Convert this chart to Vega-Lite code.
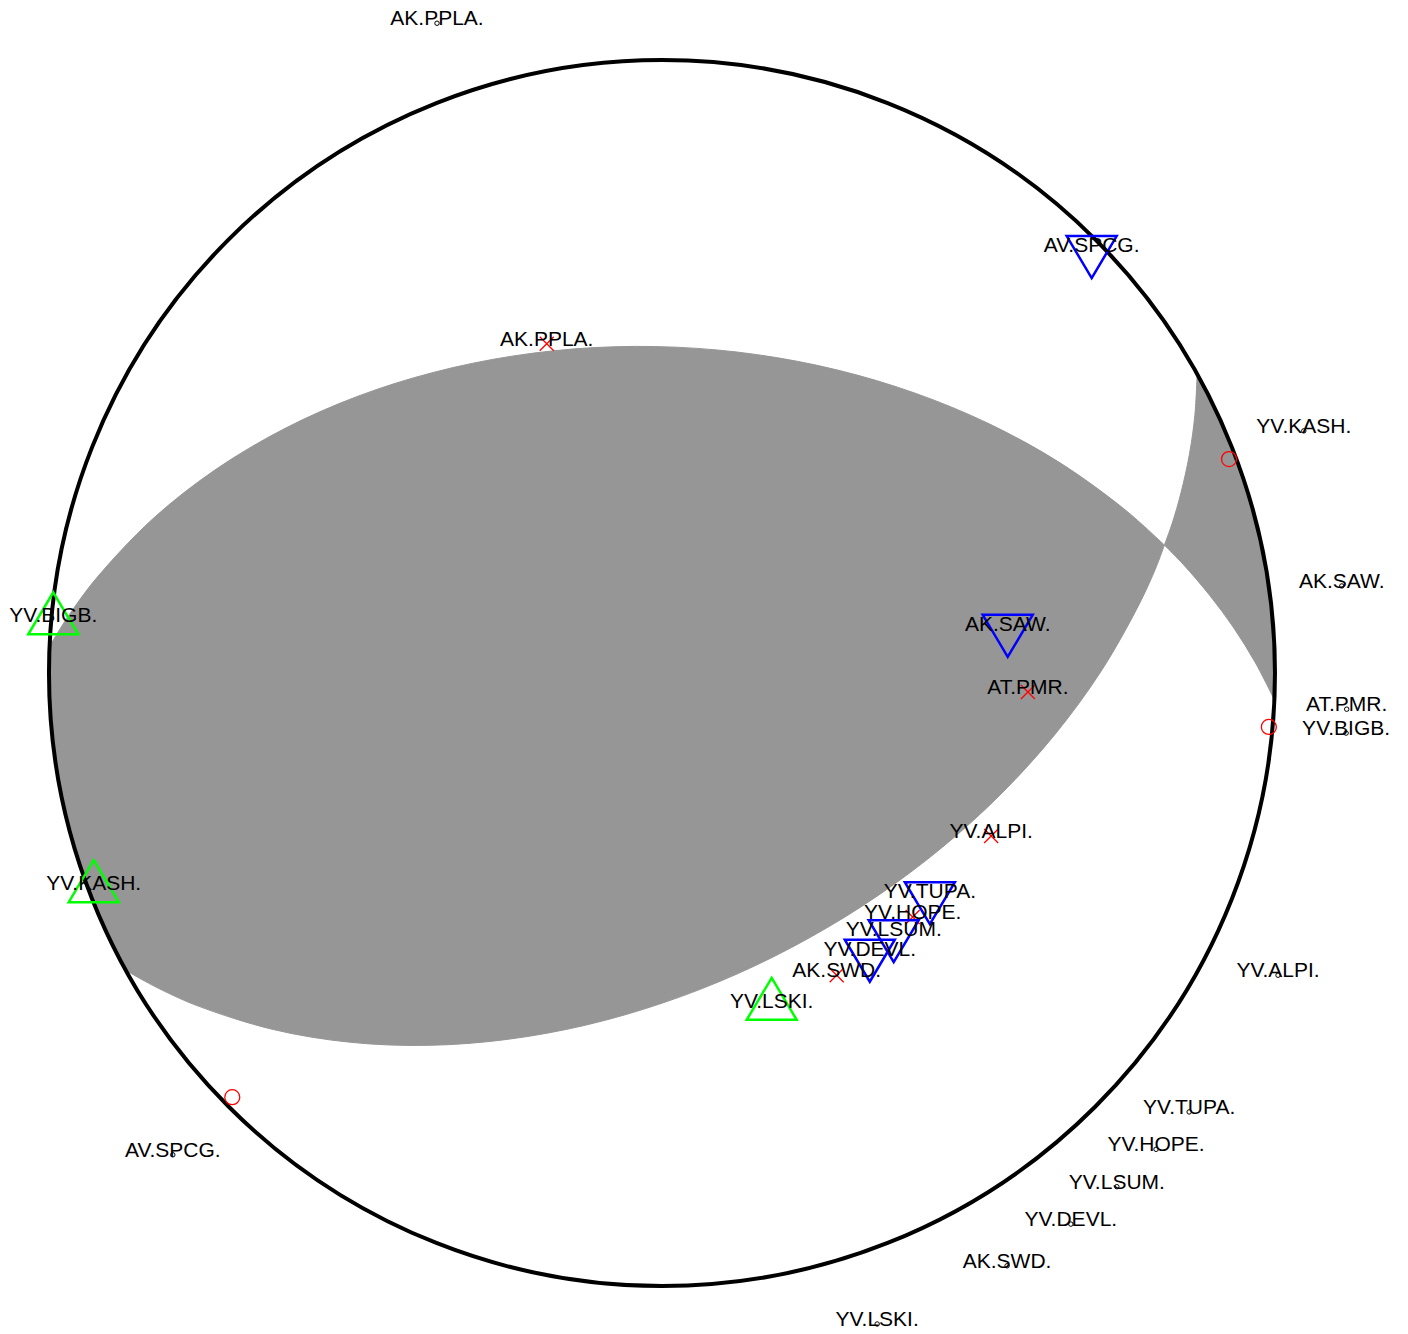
{
  "$schema": "https://vega.github.io/schema/vega-lite/v6.json",
  "width": 1408,
  "height": 1334,
  "autosize": "none",
  "padding": 0,
  "background": "white",
  "config": {"view": {"stroke": null}},
  "datasets": {
    "gray": [
      {"poly": "a", "i": 1, "u": -0.999, "v": 0.0436},
      {"poly": "a", "i": 1.5, "u": -0.999, "v": 0.0436},
      {"poly": "a", "i": 2, "u": -0.9814, "v": 0.0728},
      {"poly": "a", "i": 3, "u": -0.9628, "v": 0.1010},
      {"poly": "a", "i": 4, "u": -0.9228, "v": 0.1545},
      {"poly": "a", "i": 5, "u": -0.8321, "v": 0.2502},
      {"poly": "a", "i": 6, "u": -0.7293, "v": 0.3312},
      {"poly": "a", "i": 7, "u": -0.6170, "v": 0.3980},
      {"poly": "a", "i": 8, "u": -0.4972, "v": 0.4511},
      {"poly": "a", "i": 9, "u": -0.3716, "v": 0.4907},
      {"poly": "a", "i": 10, "u": -0.2419, "v": 0.5173},
      {"poly": "a", "i": 11, "u": -0.1099, "v": 0.5309},
      {"poly": "a", "i": 12, "u": 0.0232, "v": 0.5315},
      {"poly": "a", "i": 13, "u": 0.1557, "v": 0.5193},
      {"poly": "a", "i": 14, "u": 0.2861, "v": 0.4943},
      {"poly": "a", "i": 15, "u": 0.4130, "v": 0.4565},
      {"poly": "a", "i": 16, "u": 0.5346, "v": 0.4061},
      {"poly": "a", "i": 17, "u": 0.6494, "v": 0.3428},
      {"poly": "a", "i": 18, "u": 0.7553, "v": 0.2664},
      {"poly": "a", "i": 19, "u": 0.8196, "v": 0.2087},
      {"poly": "a", "i": 19.5, "u": 0.8196, "v": 0.2087},
      {"poly": "a", "i": 20, "u": 0.8062, "v": 0.1728},
      {"poly": "a", "i": 21, "u": 0.7798, "v": 0.1148},
      {"poly": "a", "i": 22, "u": 0.7168, "v": 0.0036},
      {"poly": "a", "i": 23, "u": 0.6410, "v": -0.1003},
      {"poly": "a", "i": 24, "u": 0.5540, "v": -0.1965},
      {"poly": "a", "i": 25, "u": 0.4574, "v": -0.2843},
      {"poly": "a", "i": 26, "u": 0.3525, "v": -0.3630},
      {"poly": "a", "i": 27, "u": 0.2405, "v": -0.4320},
      {"poly": "a", "i": 28, "u": 0.1229, "v": -0.4908},
      {"poly": "a", "i": 29, "u": 0.0006, "v": -0.5385},
      {"poly": "a", "i": 30, "u": -0.1248, "v": -0.5745},
      {"poly": "a", "i": 31, "u": -0.2524, "v": -0.5977},
      {"poly": "a", "i": 32, "u": -0.3806, "v": -0.6074},
      {"poly": "a", "i": 33, "u": -0.5084, "v": -0.6024},
      {"poly": "a", "i": 34, "u": -0.6341, "v": -0.5816},
      {"poly": "a", "i": 35, "u": -0.7564, "v": -0.5434},
      {"poly": "a", "i": 36, "u": -0.8155, "v": -0.5173},
      {"poly": "a", "i": 37, "u": -0.8445, "v": -0.5022},
      {"poly": "a", "i": 38, "u": -0.873, "v": -0.486},
      {"poly": "a", "i": 38.5, "u": -0.873, "v": -0.486},
      {"poly": "a", "i": 39, "u": -0.9063, "v": -0.4226},
      {"poly": "a", "i": 40, "u": -0.9397, "v": -0.3420},
      {"poly": "a", "i": 41, "u": -0.9659, "v": -0.2588},
      {"poly": "a", "i": 42, "u": -0.9848, "v": -0.1736},
      {"poly": "a", "i": 43, "u": -0.9962, "v": -0.0872},
      {"poly": "a", "i": 44, "u": -1.0, "v": 0.0},
      {"poly": "b", "i": 1, "u": 0.873, "v": 0.486},
      {"poly": "b", "i": 1.5, "u": 0.873, "v": 0.486},
      {"poly": "b", "i": 2, "u": 0.8693, "v": 0.4205},
      {"poly": "b", "i": 3, "u": 0.8604, "v": 0.3566},
      {"poly": "b", "i": 4, "u": 0.8466, "v": 0.2938},
      {"poly": "b", "i": 5, "u": 0.8325, "v": 0.2447},
      {"poly": "b", "i": 6, "u": 0.8196, "v": 0.2087},
      {"poly": "b", "i": 6.5, "u": 0.8196, "v": 0.2087},
      {"poly": "b", "i": 7, "u": 0.8507, "v": 0.1768},
      {"poly": "b", "i": 8, "u": 0.8934, "v": 0.1268},
      {"poly": "b", "i": 9, "u": 0.9328, "v": 0.0735},
      {"poly": "b", "i": 10, "u": 0.9680, "v": 0.0168},
      {"poly": "b", "i": 11, "u": 0.999, "v": -0.0436},
      {"poly": "b", "i": 11.5, "u": 0.999, "v": -0.0436},
      {"poly": "b", "i": 12, "u": 1.0, "v": 0.0},
      {"poly": "b", "i": 13, "u": 0.9962, "v": 0.0872},
      {"poly": "b", "i": 14, "u": 0.9848, "v": 0.1736},
      {"poly": "b", "i": 15, "u": 0.9659, "v": 0.2588},
      {"poly": "b", "i": 16, "u": 0.9397, "v": 0.3420},
      {"poly": "b", "i": 17, "u": 0.9063, "v": 0.4226}
    ],
    "center": [{"u": 0, "v": 0}],
    "sta": [
      {"label": "AK.PPLA.", "kind": "cross", "u": -0.188, "v": 0.537},
      {"label": "AV.SPCG.", "kind": "down", "u": 0.701, "v": 0.690},
      {"label": "AK.SAW.", "kind": "down", "u": 0.564, "v": 0.072},
      {"label": "AT.PMR.", "kind": "cross", "u": 0.597, "v": -0.031},
      {"label": "YV.ALPI.", "kind": "cross", "u": 0.537, "v": -0.266},
      {"label": "YV.TUPA.", "kind": "down", "u": 0.437, "v": -0.364},
      {"label": "YV.HOPE.", "kind": "cross", "u": 0.409, "v": -0.398},
      {"label": "YV.LSUM.", "kind": "down", "u": 0.378, "v": -0.426},
      {"label": "YV.DEVL.", "kind": "down", "u": 0.339, "v": -0.458},
      {"label": "AK.SWD.", "kind": "cross", "u": 0.285, "v": -0.493},
      {"label": "YV.LSKI.", "kind": "up", "u": 0.179, "v": -0.543},
      {"label": "YV.BIGB.", "kind": "up", "u": -0.993, "v": 0.086},
      {"label": "YV.KASH.", "kind": "up", "u": -0.927, "v": -0.351},
      {"kind": "ring", "u": 0.925, "v": 0.349},
      {"kind": "ring", "u": 0.990, "v": -0.088},
      {"kind": "ring", "u": -0.701, "v": -0.692},
      {"label": "AK.PPLA.", "kind": "dot", "u": -0.367, "v": 1.060},
      {"label": "YV.KASH.", "kind": "dot", "u": 1.047, "v": 0.395},
      {"label": "AK.SAW.", "kind": "dot", "u": 1.109, "v": 0.142},
      {"label": "AT.PMR.", "kind": "dot", "u": 1.117, "v": -0.059},
      {"label": "YV.BIGB.", "kind": "dot", "u": 1.116, "v": -0.098},
      {"label": "YV.ALPI.", "kind": "dot", "u": 1.005, "v": -0.493},
      {"label": "YV.TUPA.", "kind": "dot", "u": 0.860, "v": -0.716},
      {"label": "YV.HOPE.", "kind": "dot", "u": 0.806, "v": -0.777},
      {"label": "YV.LSUM.", "kind": "dot", "u": 0.742, "v": -0.838},
      {"label": "YV.DEVL.", "kind": "dot", "u": 0.667, "v": -0.899},
      {"label": "AK.SWD.", "kind": "dot", "u": 0.563, "v": -0.967},
      {"label": "YV.LSKI.", "kind": "dot", "u": 0.351, "v": -1.062},
      {"label": "AV.SPCG.", "kind": "dot", "u": -0.798, "v": -0.786}
    ]
  },
  "encoding": {
    "x": {"field": "u", "type": "quantitative", "axis": null, "scale": {"domain": [-1.0799, 1.2170], "nice": false, "zero": false}},
    "y": {"field": "v", "type": "quantitative", "axis": null, "scale": {"domain": [-1.0783, 1.0979], "nice": false, "zero": false}}
  },
  "layer": [
    {
      "data": {"name": "gray"},
      "mark": {"type": "line", "interpolate": "catmull-rom-closed", "fill": "#969696", "stroke": "#969696", "strokeWidth": 1},
      "encoding": {
        "order": {"field": "i", "type": "quantitative"},
        "detail": {"field": "poly", "type": "nominal"}
      }
    },
    {
      "data": {"name": "center"},
      "mark": {"type": "point", "shape": "circle", "size": 1503076, "filled": false, "stroke": "black", "strokeWidth": 4, "opacity": 1}
    },
    {
      "data": {"name": "sta"},
      "transform": [{"filter": "datum.kind === 'ring'"}],
      "mark": {"type": "point", "shape": "circle", "size": 225, "filled": false, "stroke": "red", "strokeWidth": 1.3, "opacity": 1}
    },
    {
      "data": {"name": "sta"},
      "transform": [{"filter": "datum.kind === 'cross'"}],
      "mark": {"type": "point", "shape": "M-1,-1L1,1M1,-1L-1,1", "size": 196, "filled": false, "stroke": "red", "strokeWidth": 1.3, "opacity": 1}
    },
    {
      "data": {"name": "sta"},
      "transform": [{"filter": "datum.kind === 'down'"}],
      "mark": {"type": "point", "shape": "M0,1.12L1,-0.56L-1,-0.56Z", "size": 2500, "filled": false, "stroke": "blue", "strokeWidth": 2.5, "opacity": 1}
    },
    {
      "data": {"name": "sta"},
      "transform": [{"filter": "datum.kind === 'up'"}],
      "mark": {"type": "point", "shape": "M0,-1.12L1,0.56L-1,0.56Z", "size": 2500, "filled": false, "stroke": "#00ff00", "strokeWidth": 2.5, "opacity": 1}
    },
    {
      "data": {"name": "sta"},
      "transform": [{"filter": "datum.kind === 'dot'"}],
      "mark": {"type": "point", "shape": "circle", "size": 20, "filled": false, "stroke": "black", "strokeWidth": 1, "opacity": 1}
    },
    {
      "data": {"name": "sta"},
      "transform": [{"filter": "isValid(datum.label)"}],
      "mark": {"type": "text", "font": "Liberation Sans", "fontSize": 21, "align": "center", "baseline": "alphabetic", "dy": 2, "color": "black"},
      "encoding": {"text": {"field": "label", "type": "nominal"}}
    }
  ]
}
